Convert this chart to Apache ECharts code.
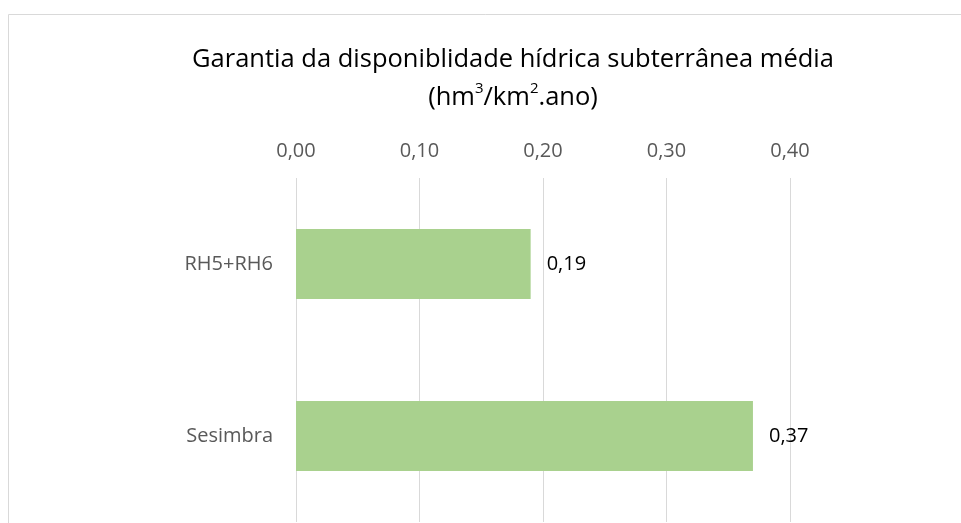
<!DOCTYPE html>
<html>
<head>
<meta charset="utf-8">
<script src="https://cdn.jsdelivr.net/npm/echarts@6/dist/echarts.min.js"></script>
<style>
  html, body { margin: 0; padding: 0; background: #fff; }
  #chart { width: 961px; height: 523px; }
</style>
</head>
<body>
<div id="chart"></div>
<script>
const categories = ['RH5+RH6', 'Sesimbra']
const values = [0.19, 0.37]
const tickMin = 0
const tickMax = 0.4
const tickStep = 0.1

const chart = echarts.init(document.getElementById('chart'))

const fmt = v => v.toFixed(2).replace('.', ',')

const option = {
  animation: false,
  textStyle: { fontFamily: 'Open Sans' },
  graphic: [
    {
      type: 'rect',
      shape: { x: 8.5, y: 14.5, width: 1000, height: 600 },
      style: { fill: 'none', stroke: '#d9d9d9', lineWidth: 1 },
      silent: true
    }
  ],
  title: {
    text: 'Garantia da disponiblidade hídrica subterrânea média\n(hm{sup|3}/km{sup|2}.ano)',
    left: 508,
    textAlign: 'center',
    top: 36,
    textStyle: {
      color: '#000',
      fontSize: 25.5,
      fontWeight: 'normal',
      lineHeight: 38,
      rich: {
        sup: { fontSize: 15, lineHeight: 15, verticalAlign: 'middle', padding: [0, 0, 18, 0], color: '#000' }
      }
    }
  },
  grid: {
    left: 296,
    right: 171,
    top: 178,
    bottom: 1,
    containLabel: false
  },
  xAxis: {
    type: 'value',
    position: 'top',
    min: tickMin,
    max: tickMax,
    interval: tickStep,
    axisLine: { show: false },
    axisTick: { show: false },
    axisLabel: {
      color: '#595959',
      fontSize: 20,
      margin: 17,
      formatter: v => fmt(v)
    },
    splitLine: { lineStyle: { color: '#d9d9d9', width: 1 } }
  },
  yAxis: {
    type: 'category',
    inverse: true,
    data: categories,
    axisLine: { show: false },
    axisTick: { show: false },
    axisLabel: { color: '#595959', fontSize: 20, margin: 23 }
  },
  series: [
    {
      type: 'bar',
      data: values,
      barWidth: 70,
      itemStyle: { color: '#a9d18e' },
      label: {
        show: true,
        position: 'right',
        distance: 16,
        color: '#000',
        fontSize: 20,
        formatter: p => fmt(p.value)
      }
    }
  ]
}

chart.setOption(option)
</script>
</body>
</html>
